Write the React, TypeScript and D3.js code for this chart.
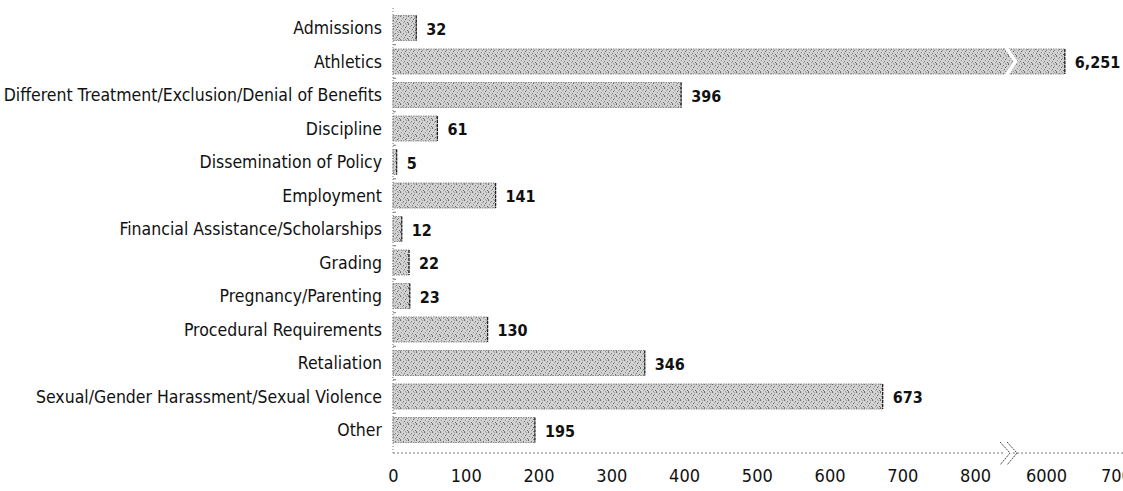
import { useEffect, useRef } from 'react';
import * as d3 from 'd3';

const categories = [
  'Admissions',
  'Athletics',
  'Different Treatment/Exclusion/Denial of Benefits',
  'Discipline',
  'Dissemination of Policy',
  'Employment',
  'Financial Assistance/Scholarships',
  'Grading',
  'Pregnancy/Parenting',
  'Procedural Requirements',
  'Retaliation',
  'Sexual/Gender Harassment/Sexual Violence',
  'Other',
];
const counts = [32, 6251, 396, 61, 5, 141, 12, 22, 23, 130, 346, 673, 195];
const tickValues = [0, 100, 200, 300, 400, 500, 600, 700, 800, 6000, 7000];
// the axis is broken between 800 and 6000
const breakLow = 848;
const breakHigh = 5520;

const WIDTH = 1123;
const HEIGHT = 491;
const AXIS_Y = 453;
const BAR_H = 25;
const FONT = '"Liberation Sans Narrow", "DejaVu Sans Condensed", "Roboto", sans-serif';

// halftone screen used as bar fill (x, y, shade)
const dots: [number, number, string][] = [
  [0, 0, '#666'], [3, 1, '#777'], [5, 3, '#666'], [1, 4, '#888'],
  [4, 5, '#777'], [2, 2, '#999'], [6, 0, '#999'], [7, 6, '#666'],
  [0, 7, '#777'], [5, 7, '#999'], [3, 6, '#aaa'], [6, 2, '#888'],
];

export default function App() {
  const svgRef = useRef<SVGSVGElement>(null);

  useEffect(() => {
    if (!svgRef.current) return;
    const svg = d3.select(svgRef.current);
    svg.selectAll('*').remove();

    const x = d3
      .scaleLinear<number, number>()
      .domain([0, breakLow, breakHigh, 7000])
      .range([393, 1010, 1010, 1121]);
    const y = d3.scalePoint<string>().domain(categories).range([28, 430]);

    const defs = svg.append('defs');
    const pat = defs
      .append('pattern')
      .attr('id', 'halftone')
      .attr('width', 8)
      .attr('height', 8)
      .attr('patternUnits', 'userSpaceOnUse');
    pat.append('rect').attr('width', 8).attr('height', 8).attr('fill', '#d2d2d2');
    pat
      .selectAll('rect.dot')
      .data(dots)
      .join('rect')
      .attr('class', 'dot')
      .attr('x', (d) => d[0])
      .attr('y', (d) => d[1])
      .attr('width', 1)
      .attr('height', 1)
      .attr('fill', (d) => d[2]);

    const rows = categories.map((c, i) => ({ cat: c, val: counts[i] }));

    // bars
    svg
      .append('g')
      .selectAll('rect')
      .data(rows)
      .join('rect')
      .attr('x', x(0))
      .attr('y', (d) => (y(d.cat) ?? 0) - BAR_H / 2)
      .attr('width', (d) => x(d.val) - x(0))
      .attr('height', BAR_H)
      .attr('fill', 'url(#halftone)')
      .attr('stroke', '#8a8a8a')
      .attr('stroke-width', 1)
      .attr('stroke-dasharray', '1.5,1');

    // dark right edge of each bar
    svg
      .append('g')
      .selectAll('line')
      .data(rows)
      .join('line')
      .attr('x1', (d) => x(d.val))
      .attr('x2', (d) => x(d.val))
      .attr('y1', (d) => (y(d.cat) ?? 0) - BAR_H / 2)
      .attr('y2', (d) => (y(d.cat) ?? 0) + BAR_H / 2)
      .attr('stroke', '#222')
      .attr('stroke-width', 1.3)
      .attr('stroke-dasharray', '3,1');

    // break in the long bar
    rows
      .filter((d) => d.val > breakHigh)
      .forEach((d) => {
        const cy = y(d.cat) ?? 0;
        const bx = x(breakLow) - 6;
        const top = cy - BAR_H / 2 - 1;
        const bot = cy + BAR_H / 2 + 1;
        svg
          .append('path')
          .attr('d', `M${bx},${top} L${bx + 9},${cy} L${bx},${bot} L${bx + 5},${bot} L${bx + 14},${cy} L${bx + 5},${top} Z`)
          .attr('fill', '#fff');
        svg
          .append('path')
          .attr('d', `M${bx},${top} L${bx + 9},${cy} L${bx},${bot} M${bx + 5},${top} L${bx + 14},${cy} L${bx + 5},${bot}`)
          .attr('fill', 'none')
          .attr('stroke', '#999')
          .attr('stroke-dasharray', '1,1.5');
      });

    // value labels
    svg
      .append('g')
      .selectAll('text')
      .data(rows)
      .join('text')
      .attr('x', (d) => x(d.val) + 10)
      .attr('y', (d) => (y(d.cat) ?? 0) + 1)
      .attr('dy', '0.35em')
      .attr('font-family', FONT)
      .attr('font-size', 16)
      .attr('font-weight', 'bold')
      .attr('fill', '#111')
      .text((d) => d3.format(',')(d.val));

    // y axis
    const yAxis = svg
      .append('g')
      .attr('transform', `translate(${x(0)},0)`)
      .call(d3.axisLeft(y).tickSize(0).tickPadding(11));
    yAxis.select('.domain').remove();
    yAxis
      .selectAll('text')
      .attr('font-family', FONT)
      .attr('font-size', 17.5)
      .attr('fill', '#111');
    yAxis
      .append('line')
      .attr('x1', 0)
      .attr('x2', 0)
      .attr('y1', 8)
      .attr('y2', AXIS_Y)
      .attr('stroke', '#777')
      .attr('stroke-dasharray', '1,2');
    // small ticks between rows on the left edge
    yAxis
      .selectAll('line.sep')
      .data(categories.slice(1))
      .join('line')
      .attr('class', 'sep')
      .attr('x1', 0)
      .attr('x2', 3)
      .attr('y1', (d) => (y(d) ?? 0) - y.step() / 2)
      .attr('y2', (d) => (y(d) ?? 0) - y.step() / 2)
      .attr('stroke', '#777');

    // x axis
    const xAxis = svg
      .append('g')
      .attr('transform', `translate(0,${AXIS_Y})`)
      .call(d3.axisBottom(x).tickValues(tickValues).tickSize(0).tickPadding(16).tickFormat(d3.format('d')));
    xAxis.select('.domain').remove();
    xAxis
      .selectAll('text')
      .attr('font-family', FONT)
      .attr('font-size', 18)
      .attr('fill', '#111');
    xAxis
      .append('line')
      .attr('x1', x(0))
      .attr('x2', WIDTH)
      .attr('y1', 0)
      .attr('y2', 0)
      .attr('stroke', '#777')
      .attr('stroke-dasharray', '2,2');

    // axis break marks
    const ax = x(breakLow);
    xAxis
      .append('rect')
      .attr('x', ax - 6)
      .attr('y', -2)
      .attr('width', 8)
      .attr('height', 4)
      .attr('fill', '#fff');
    [ax - 10, ax - 3].forEach((bx) => {
      xAxis
        .append('path')
        .attr('d', `M${bx},-11 L${bx + 10},0 L${bx},12`)
        .attr('fill', 'none')
        .attr('stroke', '#444')
        .attr('stroke-width', 1)
        .attr('stroke-dasharray', '2,1');
    });
  }, []);

  return (
    <svg
      ref={svgRef}
      width={WIDTH}
      height={HEIGHT}
      style={{ position: 'absolute', left: 0, top: 0, background: '#fff' }}
    />
  );
}
